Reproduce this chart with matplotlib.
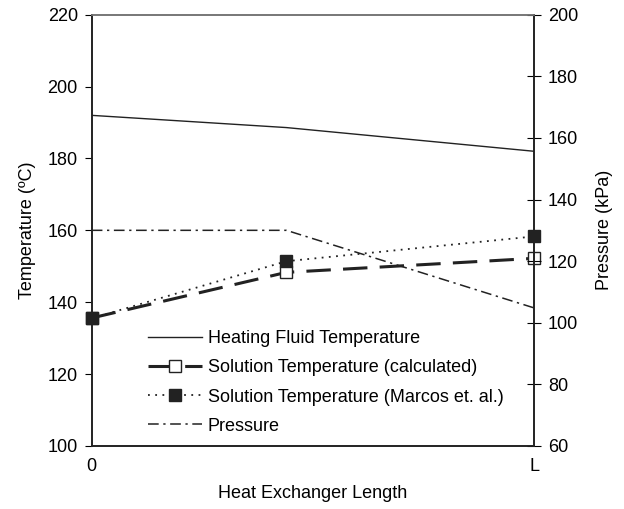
import matplotlib.pyplot as plt

plt.rcParams['font.family'] = ['Liberation Sans', 'DejaVu Sans']
plt.rcParams['font.size'] = 13

# positions along the heat exchanger (0 .. L)
position = [0, 0.44, 1]
heating_fluid = [192, 188.6, 182]
solution_calc = [135.6, 148.3, 152.2]
solution_marcos = [135.5, 151.4, 158.3]
pressure = [130, 130, 104.8]

fig = plt.figure(figsize=(6.24, 5.09), dpi=100)
ax = fig.add_axes([0.147, 0.124, 0.709, 0.847])
ax2 = ax.twinx()

ax.plot(position, heating_fluid, color='#222222', lw=1.0,
        label='Heating Fluid Temperature')
ax.plot(position, solution_calc, color='#222222', lw=2.2, dashes=(8, 4),
        marker='s', markersize=8, markerfacecolor='white',
        markeredgecolor='#222222', markeredgewidth=1.0, clip_on=False,
        label='Solution Temperature (calculated)')
ax.plot(position, solution_marcos, color='#222222', lw=1.3, linestyle=(0, (1, 3)),
        marker='s', markersize=8, markerfacecolor='#222222',
        markeredgecolor='#222222', zorder=4, clip_on=False,
        label='Solution Temperature (Marcos et. al.)')
ax2.plot(position, pressure, color='#222222', lw=1.1,
         dashes=(7, 3, 1.5, 3), label='Pressure')

ax.set_xlim(0, 1)
ax.set_ylim(100, 220)
ax2.set_ylim(60, 200)
ax.set_xticks([0, 1])
ax.set_xticklabels(['0', 'L'])
ax.tick_params(axis='x', length=0, pad=9)
ax.tick_params(axis='y', direction='out', length=5, pad=5)
ax2.tick_params(axis='y', direction='inout', length=10, pad=5)
ax.set_yticks(range(100, 221, 20))
ax2.set_yticks(range(60, 201, 20))

ax.set_xlabel('Heat Exchanger Length', labelpad=7)
ax.set_ylabel('Temperature (ºC)', labelpad=8)
ax2.set_ylabel('Pressure (kPa)', labelpad=13)

for a in (ax, ax2):
    for s in a.spines.values():
        s.set_linewidth(1.2)
        s.set_color('#222222')
ax.spines['top'].set_color('#777777')
ax2.spines['top'].set_color('#777777')

handles = ax.get_lines() + ax2.get_lines()
ax2.legend(handles, [h.get_label() for h in handles], frameon=False,
           loc='lower left', bbox_to_anchor=(0.091, -0.012), handlelength=3.0,
           handletextpad=0.3, labelspacing=0.68, fontsize=13)

fig.savefig('out.png', dpi=100)
